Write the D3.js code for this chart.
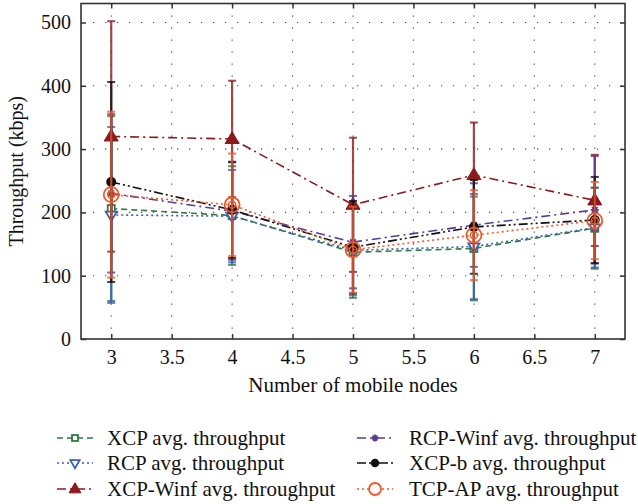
<!DOCTYPE html>
<html>
<head>
<meta charset="utf-8">
<script src="https://cdn.jsdelivr.net/npm/d3@7"></script>
<style>
  html, body { margin: 0; padding: 0; background: #fff; }
  svg { display: block; }
  text { font-family: "Liberation Serif", "DejaVu Serif", serif; fill: #111; }
</style>
</head>
<body>
<svg id="chart" width="638" height="504"></svg>
<script>
// Number of mobile nodes
const nodes = [3, 4, 5, 6, 7];

// Average throughput (kbps) and error half-widths per protocol
const xcpMean = [206, 195, 137, 143, 175];
const xcpErr = [146, 78, 72, 82, 64];
const rcpMean = [196, 194, 140, 146, 176];
const rcpErr = [139, 73, 71, 83, 63];
const xcpWinfMean = [320, 316, 212, 259, 219];
const xcpWinfErr = [182, 92, 106, 83, 72];
const rcpWinfMean = [230, 202, 153, 180, 204];
const rcpWinfErr = [125, 77, 73, 66, 85];
const xcpBMean = [248, 204, 145, 177, 188];
const xcpBErr = [158, 76, 73, 74, 68];
const tcpApMean = [228, 212, 141, 164, 187];
const tcpApErr = [131, 81, 68, 71, 61];

const xTicks = [3, 3.5, 4, 4.5, 5, 5.5, 6, 6.5, 7];
const yTicks = [0, 100, 200, 300, 400, 500];

const series = [
  { name: "XCP avg. throughput", mean: xcpMean, err: xcpErr, color: "#2d7a3e", dash: "6,4", marker: "square" },
  { name: "RCP avg. throughput", mean: rcpMean, err: rcpErr, color: "#3b5fb4", dash: "2,3", marker: "tri-down" },
  { name: "XCP-Winf avg. throughput", mean: xcpWinfMean, err: xcpWinfErr, color: "#8c1a1c", dash: "9,4,2,4", marker: "tri-up" },
  { name: "RCP-Winf avg. throughput", mean: rcpWinfMean, err: rcpWinfErr, color: "#553c96", dash: "9,4,2,4", marker: "star" },
  { name: "XCP-b avg. throughput", mean: xcpBMean, err: xcpBErr, color: "#111111", dash: "9,3,2,3,2,3", marker: "dot" },
  { name: "TCP-AP avg. throughput", mean: tcpApMean, err: tcpApErr, color: "#f05a28", dash: "2,3", marker: "ring" }
];

const svg = d3.select("#chart");
const L = 81, R = 625, T = 3.5, B = 339;

const x = d3.scaleLinear().domain([2.75, 7.25]).range([L, R]);
const y = d3.scaleLinear().domain([0, 530]).range([B, T]);

// Dotted grid
const grid = svg.append("g");
grid.selectAll("line.v").data(xTicks).join("line")
  .attr("x1", d => x(d)).attr("x2", d => x(d))
  .attr("y1", T).attr("y2", B)
  .attr("stroke", "#444").attr("stroke-width", 1.1)
  .attr("stroke-dasharray", "1.2,10.8");
grid.selectAll("line.h").data(yTicks.filter(d => d > 0)).join("line")
  .attr("x1", L).attr("x2", R)
  .attr("y1", d => y(d)).attr("y2", d => y(d))
  .attr("stroke", "#444").attr("stroke-width", 1.1)
  .attr("stroke-dasharray", "1.2,10.8");

// Axes with inward ticks on all four sides
const axisColor = "#333";
const fmtX = d => (Number.isInteger(d) ? d3.format("d")(d) : d3.format(".1f")(d));
const gx = svg.append("g").attr("transform", `translate(0,${B})`)
  .call(d3.axisBottom(x).tickValues(xTicks).tickFormat(fmtX).tickSizeInner(-5).tickSizeOuter(0).tickPadding(11));
const gxTop = svg.append("g").attr("transform", `translate(0,${T})`)
  .call(d3.axisTop(x).tickValues(xTicks).tickFormat("").tickSizeInner(-5).tickSizeOuter(0));
const gy = svg.append("g").attr("transform", `translate(${L},0)`)
  .call(d3.axisLeft(y).tickValues(yTicks).tickFormat(d3.format("d")).tickSizeInner(-5).tickSizeOuter(0).tickPadding(10));
const gyRight = svg.append("g").attr("transform", `translate(${R},0)`)
  .call(d3.axisRight(y).tickValues(yTicks).tickFormat("").tickSizeInner(-5).tickSizeOuter(0));

[gx, gxTop, gy, gyRight].forEach(g => {
  g.select(".domain").remove();
  g.selectAll(".tick line").attr("stroke", axisColor).attr("stroke-width", 1.5);
  g.selectAll("text").style("font-family", '"Liberation Serif", serif').style("font-size", "20px").attr("fill", "#111");
});

svg.append("rect")
  .attr("x", L).attr("y", T).attr("width", R - L).attr("height", B - T)
  .attr("fill", "none").attr("stroke", axisColor).attr("stroke-width", 1.6);

// Axis titles
svg.append("text")
  .attr("x", (L + R) / 2).attr("y", 392)
  .attr("text-anchor", "middle").style("font-size", "21px")
  .text("Number of mobile nodes");
svg.append("text")
  .attr("transform", `translate(23,${(T + B) / 2}) rotate(-90)`)
  .attr("text-anchor", "middle").style("font-size", "20px")
  .text("Throughput (kbps)");

// Marker drawing helper
function drawMarker(g, type, color, cx, cy, big) {
  const s = big ? 1 : 0.85;
  if (type === "square") {
    const h = 3.5 * s;
    g.append("rect").attr("x", cx - h).attr("y", cy - h).attr("width", 2 * h).attr("height", 2 * h)
      .attr("fill", "#fff").attr("stroke", color).attr("stroke-width", 1.8);
  } else if (type === "tri-down") {
    const w = 5.5 * s, h = 5.5 * s;
    g.append("path").attr("d", `M${cx - w},${cy - h * 0.6}L${cx + w},${cy - h * 0.6}L${cx},${cy + h * 1.1}Z`)
      .attr("fill", "#fff").attr("stroke", color).attr("stroke-width", 1.8);
  } else if (type === "tri-up") {
    const w = 7 * s, h = 7 * s;
    g.append("path").attr("d", `M${cx - w},${cy + h * 0.65}L${cx + w},${cy + h * 0.65}L${cx},${cy - h * 1.05}Z`)
      .attr("fill", color).attr("stroke", color).attr("stroke-width", 1);
  } else if (type === "star") {
    const r = 4 * s;
    const d = [0, 45, 90, 135].map(a => {
      const rad = a * Math.PI / 180;
      return `M${cx - r * Math.cos(rad)},${cy - r * Math.sin(rad)}L${cx + r * Math.cos(rad)},${cy + r * Math.sin(rad)}`;
    }).join("");
    g.append("path").attr("d", d).attr("stroke", color).attr("stroke-width", 1.8).attr("fill", "none");
  } else if (type === "dot") {
    g.append("circle").attr("cx", cx).attr("cy", cy).attr("r", 5 * s).attr("fill", color);
  } else if (type === "ring") {
    g.append("circle").attr("cx", cx).attr("cy", cy).attr("r", big ? 7.5 : 6)
      .attr("fill", "#fff").attr("fill-opacity", big ? 0 : 1).attr("stroke", color).attr("stroke-width", 1.8);
    if (big) {
      g.append("circle").attr("cx", cx).attr("cy", cy).attr("r", 3.5)
        .attr("fill", "none").attr("stroke", color).attr("stroke-width", 1.5);
    }
  }
}

// Series: error bars, connecting line, markers
const line = d3.line().x((d, i) => x(nodes[i])).y(d => y(d));
const capW = 4;
series.forEach(s => {
  const g = svg.append("g");
  nodes.forEach((n, i) => {
    const lo = s.mean[i] - s.err[i], hi = s.mean[i] + s.err[i];
    const cx = x(n);
    g.append("line").attr("x1", cx).attr("x2", cx).attr("y1", y(lo)).attr("y2", y(hi))
      .attr("stroke", s.color).attr("stroke-width", 2.2).attr("stroke-opacity", 0.8);
    [lo, hi].forEach(v => {
      g.append("line").attr("x1", cx - capW).attr("x2", cx + capW).attr("y1", y(v)).attr("y2", y(v))
        .attr("stroke", s.color).attr("stroke-width", 2).attr("stroke-opacity", 0.8);
    });
  });
  g.append("path").datum(s.mean).attr("d", line)
    .attr("fill", "none").attr("stroke", s.color).attr("stroke-width", 1.6)
    .attr("stroke-dasharray", s.dash);
  nodes.forEach((n, i) => drawMarker(g, s.marker, s.color, x(n), y(s.mean[i]), true));
});

// Legend, two columns of three rows
const legend = svg.append("g");
const rowY = [438, 463, 489];
const colLine = [57, 357];
const colText = [107, 409];
series.forEach((s, i) => {
  const col = Math.floor(i / 3), row = i % 3;
  const x0 = colLine[col];
  const ly = rowY[row];
  const g = legend.append("g");
  g.append("line").attr("x1", x0).attr("x2", x0 + 36).attr("y1", ly).attr("y2", ly)
    .attr("stroke", s.color).attr("stroke-width", 1.6).attr("stroke-dasharray", s.dash);
  drawMarker(g, s.marker, s.color, x0 + 18, ly, false);
  g.append("text").attr("x", colText[col]).attr("y", ly + 7)
    .style("font-size", "21px").text(s.name);
});
</script>
</body>
</html>
